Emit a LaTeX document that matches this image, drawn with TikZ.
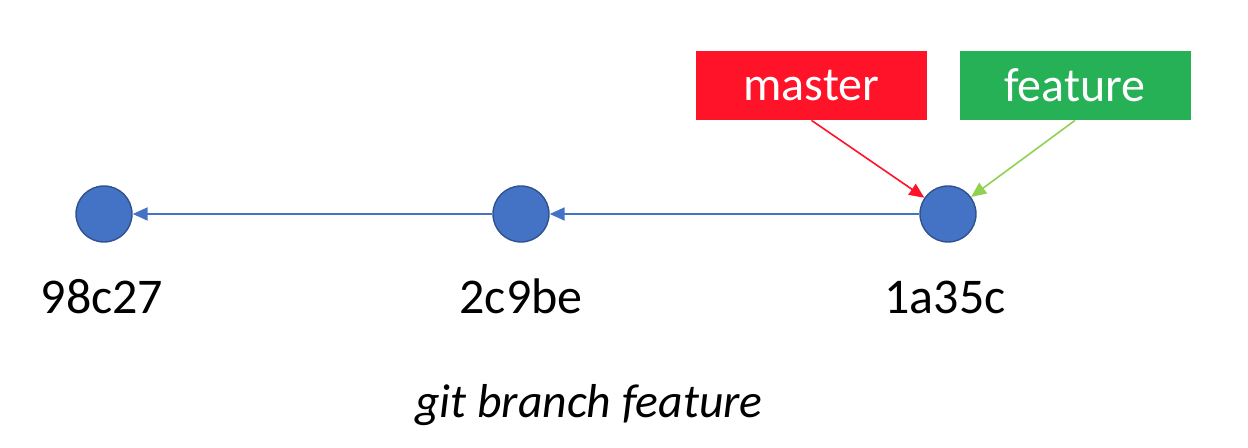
\documentclass[tikz,border=0pt]{standalone}
\usepackage{fontspec}
\setmainfont{Carlito}
\usepackage{tikz}
\usetikzlibrary{arrows.meta}
\definecolor{commitblue}{HTML}{4472C4}
\definecolor{commitedge}{HTML}{2F528F}
\definecolor{masterred}{HTML}{FF1329}
\definecolor{featuregreen}{HTML}{27B157}
\definecolor{featurearrow}{HTML}{92D050}

\begin{document}
\begin{tikzpicture}[x=0.5pt,y=0.5pt,
  commit/.style={circle,fill=commitblue,draw=commitedge,line width=0.7pt,minimum size=28pt,inner sep=0pt},
  hashlabel/.style={anchor=base,font=\fontsize{25}{29}\selectfont},
  branch/.style={minimum width=115.5pt,minimum height=34.5pt,inner sep=0pt,text=white,font=\fontsize{24}{28}\selectfont},
  parent/.style={draw=commitblue,line width=1pt,-{Triangle[length=7.5pt,width=6.5pt]}},
  pointer/.style={line width=0.8pt,-{Triangle[length=7.5pt,width=6.5pt]}}]

\useasboundingbox (0,0) rectangle (1248,448);

% commits
\node[commit] (c1) at (104,234) {};
\node[commit] (c2) at (521,234) {};
\node[commit] (c3) at (948,234) {};

\node[hashlabel] (h1) at (102,134) {98c27};
\node[hashlabel] (h2) at (521,134) {2c9be};
\node[hashlabel] (h3) at (945,134) {1a35c};

% branches
\node[branch,fill=masterred] (master) at (811.5,362.5) {master};
\node[branch,fill=featuregreen] (feature) at (1075,362.5) {feature};

\draw[parent] (c3) -- (c2);
\draw[parent] (c2) -- (c1);
\draw[pointer,draw=masterred,fill=masterred] (master.south) -- (c3);
\draw[pointer,draw=featurearrow,fill=featurearrow] (feature.south) -- (c3);

\node[font=\fontsize{23.8}{28}\selectfont\itshape,anchor=base] (cmd) at (589,30) {git branch feature};
\end{tikzpicture}
\end{document}
